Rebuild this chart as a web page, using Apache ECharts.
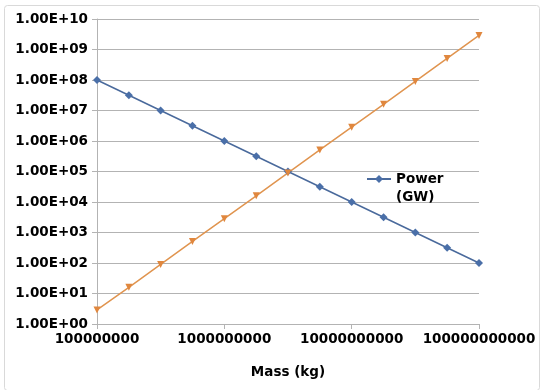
<!DOCTYPE html>
<html><head><meta charset="utf-8">
<script src="https://cdn.jsdelivr.net/npm/echarts@6/dist/echarts.min.js"></script>
<style>html,body{margin:0;padding:0;background:#fff}#c{width:540px;height:390px}</style>
</head><body><div id="c"></div>
<script>
const massKg = [1.00e8, 1.78e8, 3.16e8, 5.62e8, 1.00e9, 1.78e9, 3.16e9, 5.62e9, 1.00e10, 1.78e10, 3.16e10, 5.62e10, 1.00e11];
const powerGW = [1e8, 3.16e7, 1e7, 3.16e6, 1e6, 3.16e5, 1e5, 3.16e4, 1e4, 3.16e3, 1e3, 316, 100];
const secondSeries = [2.9, 16, 90, 510, 2850, 16000, 90000, 5.1e5, 2.85e6, 1.6e7, 9e7, 5.1e8, 2.9e9];
const seriesNames = ['Power (GW)', ''];
const xAxisTitle = 'Mass (kg)';

const font = 'DejaVu Sans';
const fs = 13.5;
const chart = echarts.init(document.getElementById('c'), null, {renderer: 'canvas'});
const pairs = (xs, ys) => xs.map((x, i) => [x, ys[i]]);
chart.setOption({
  animation: false,
  backgroundColor: '#fff',
  graphic: [{type: 'rect', left: 2, top: 3, shape: {width: 535, height: 385, r: 3}, style: {fill: 'none', stroke: '#d9d9d9', lineWidth: 1}, silent: true}],
  grid: {left: 97, right: 61, top: 19, bottom: 66, containLabel: false},
  xAxis: {
    type: 'log', logBase: 10, min: 1e8, max: 1e11, interval: 1,
    name: xAxisTitle, nameLocation: 'middle', nameGap: 41,
    nameTextStyle: {fontFamily: font, fontWeight: 'bold', fontSize: fs, color: '#000'},
    axisLine: {show: true, lineStyle: {color: '#b3b3b3'}},
    axisTick: {show: true, length: 5, lineStyle: {color: '#b3b3b3'}},
    minorTick: {show: false},
    splitLine: {show: false},
    axisLabel: {fontFamily: font, fontWeight: 'bold', fontSize: fs, color: '#000', margin: 8,
      formatter: v => Math.round(v).toString()}
  },
  yAxis: {
    type: 'log', logBase: 10, min: 1, max: 1e10, interval: 1,
    axisLine: {show: true, lineStyle: {color: '#b3b3b3'}},
    axisTick: {show: true, length: 5, lineStyle: {color: '#b3b3b3'}},
    splitLine: {show: true, lineStyle: {color: '#b3b3b3', width: 1}},
    axisLabel: {fontFamily: font, fontWeight: 'bold', fontSize: fs, color: '#000', margin: 9,
      formatter: v => { const e = Math.round(Math.log10(v)); return '1.00E+' + (e < 10 ? '0' + e : e); }}
  },
  legend: {
    data: [seriesNames[0]], left: 361, top: 147, orient: 'vertical',
    itemWidth: 24, itemHeight: 10,
    textStyle: {fontFamily: font, fontWeight: 'bold', fontSize: fs, color: '#000', lineHeight: 18},
    formatter: n => '\u00a0\n' + n.replace(' ', '\n')
  },
  series: [
    {name: seriesNames[0], type: 'line', data: pairs(massKg, powerGW), symbol: 'diamond', symbolSize: 8,
      itemStyle: {color: '#4a6fa8'}, lineStyle: {color: '#4a6a9c', width: 1.5}},
    {name: seriesNames[1], type: 'line', data: pairs(massKg, secondSeries), symbol: 'triangle', symbolRotate: 180, symbolSize: 7,
      itemStyle: {color: '#e0873e'}, lineStyle: {color: '#e0944f', width: 1.5}}
  ]
});
</script></body></html>
